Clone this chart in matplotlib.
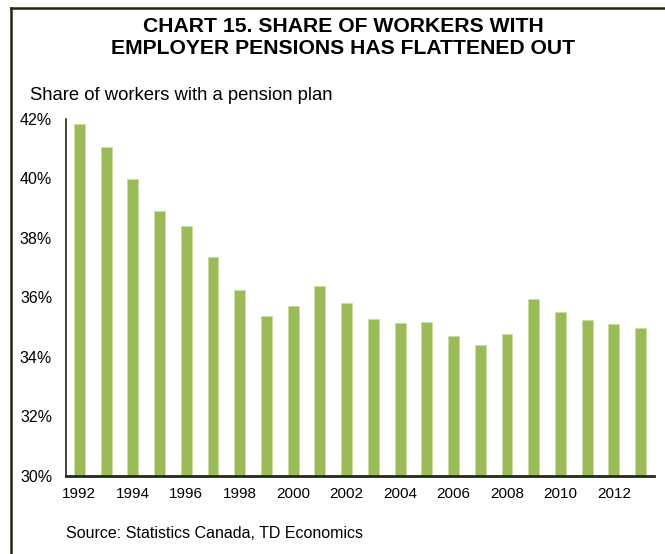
import matplotlib
matplotlib.use("Agg")
import matplotlib.pyplot as plt
from matplotlib.lines import Line2D
import numpy as np

plt.rcParams['font.family'] = ['Liberation Sans', 'DejaVu Sans']

# data
years = list(range(1992, 2014))
share = [41.82, 41.04, 39.97, 38.91, 38.40, 37.34, 36.24, 35.37, 35.70, 36.39,
         35.79, 35.26, 35.12, 35.18, 34.71, 34.40, 34.75, 35.94, 35.51, 35.23,
         35.09, 34.97]
y_ticks = [30, 32, 34, 36, 38, 40, 42]
x_labels = [str(y) if y % 2 == 0 else "" for y in years]

W, H = 665, 554
fig = plt.figure(figsize=(W / 100, H / 100), dpi=100)
ax = fig.add_axes([66 / W, 1 - 475.7 / H, 588 / W, 357 / H])

x = np.arange(len(years))
ax.bar(x, [s - 30 for s in share], bottom=30, width=0.41,
       color='#9bbb59', edgecolor='#c9dca0', linewidth=0.6)

ax.set_xlim(-0.5, len(years) - 0.5)
ax.set_ylim(30, 42)
ax.set_yticks(y_ticks)
ax.set_yticklabels([f"{t}%" for t in y_ticks], fontsize=11.5)
ax.set_xticks(x)
ax.set_xticklabels(x_labels, fontsize=11)
ax.tick_params(axis='x', length=0, pad=8)
ax.tick_params(axis='y', length=0, pad=10)

for side in ['top', 'right']:
    ax.spines[side].set_visible(False)
ax.spines['left'].set_color('#222a18')
ax.spines['left'].set_linewidth(1.2)
ax.spines['bottom'].set_color('#222a18')
ax.spines['bottom'].set_linewidth(2)

# titles and notes
fig.text(343 / W, 1 - 37 / H, "CHART 15. SHARE OF WORKERS WITH\nEMPLOYER PENSIONS HAS FLATTENED OUT",
         ha='center', va='center', fontsize=15.2, fontweight='bold', linespacing=1.2)
fig.text(30 / W, 1 - 95 / H, "Share of workers with a pension plan",
         ha='left', va='center', fontsize=13.3)
fig.text(66 / W, 1 - 533 / H, "Source: Statistics Canada, TD Economics",
         ha='left', va='center', fontsize=11.5)

# outer frame (top and left)
fig.add_artist(Line2D([10.5 / W, 1], [1 - 7.5 / H, 1 - 7.5 / H], color='#1f2810', lw=1.8,
                      transform=fig.transFigure))
fig.add_artist(Line2D([10.5 / W, 10.5 / W], [0, 1 - 7.5 / H], color='#1f2810', lw=1.8,
                      transform=fig.transFigure))

fig.savefig("out.png", dpi=100)
